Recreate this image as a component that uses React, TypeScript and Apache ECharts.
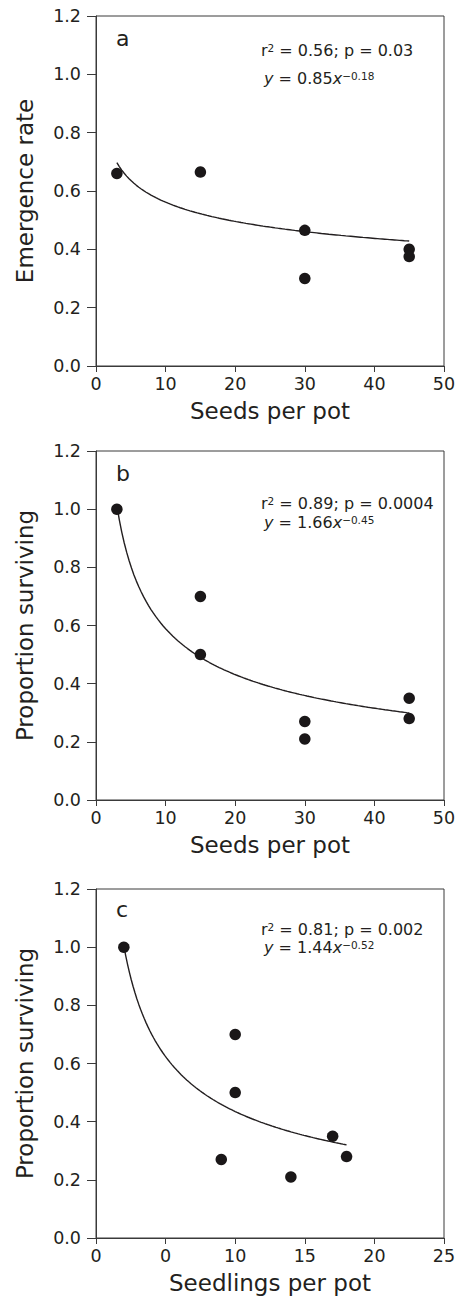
import React, { useEffect, useRef } from "react";
import * as echarts from "echarts";

// ---- data ----
const panelLetters = ["a", "b", "c"];
const xAxisNames = ["Seeds per pot", "Seeds per pot", "Seedlings per pot"];
const yAxisNames = ["Emergence rate", "Proportion surviving", "Proportion surviving"];
const yTickLabels = ["0.0", "0.2", "0.4", "0.6", "0.8", "1.0", "1.2"];
const xTickLabelsAB = ["0", "10", "20", "30", "40", "50"];
const xTickLabelsC = ["0", "0", "10", "15", "20", "25"];

const aX = [3, 15, 30, 30, 45, 45];
const aY = [0.66, 0.665, 0.465, 0.3, 0.4, 0.375];
const bX = [3, 15, 15, 30, 30, 45, 45];
const bY = [1.0, 0.7, 0.5, 0.27, 0.21, 0.35, 0.28];
const cX = [2, 9, 10, 10, 14, 17, 18];
const cY = [1.0, 0.27, 0.7, 0.5, 0.21, 0.35, 0.28];

// fitted power curves printed on the chart: y = coef * x^exp
const fitCoef = [0.85, 1.66, 1.44];
const fitExp = [-0.18, -0.45, -0.52];
const r2Values = ["0.56", "0.89", "0.81"];
const pValues = ["0.03", "0.0004", "0.002"];

const FONT = "'DejaVu Sans', 'Liberation Sans', Arial, sans-serif";
const INK = "#231f20";
const AXIS = "#3a3a3a";

export default function App() {
  const ref = useRef<HTMLDivElement>(null);

  useEffect(() => {
    document.body.style.margin = "0";
    const chart = echarts.init(ref.current!, null, { renderer: "svg" });

    const xs = [aX, bX, cX];
    const ys = [aY, bY, cY];
    const grids = [
      { left: 96, top: 16, width: 348, height: 350 },
      { left: 96, top: 451, width: 348, height: 349 },
      { left: 96, top: 889, width: 348, height: 349 },
    ];
    const xMax = [50, 50, 25];
    const xInt = [10, 10, 5];
    const xLabels = [xTickLabelsAB, xTickLabelsAB, xTickLabelsC];

    const series: any[] = [];
    for (let i = 0; i < 3; i++) {
      const pts = xs[i].map((x, k) => [x, ys[i][k]]);
      const lo = Math.min(...xs[i]);
      const hi = Math.max(...xs[i]);
      const curve: number[][] = [];
      const n = 120;
      for (let k = 0; k <= n; k++) {
        const x = lo + ((hi - lo) * k) / n;
        curve.push([x, fitCoef[i] * Math.pow(x, fitExp[i])]);
      }
      series.push({
        type: "line",
        xAxisIndex: i,
        yAxisIndex: i,
        data: curve,
        showSymbol: false,
        symbol: "none",
        lineStyle: { color: INK, width: 1.4 },
        z: 2,
      });
      series.push({
        type: "scatter",
        xAxisIndex: i,
        yAxisIndex: i,
        data: pts,
        symbolSize: 11.5,
        itemStyle: { color: "#1a1718", opacity: 1 },
        z: 3,
      });
    }

    const sup = { fontSize: 10.5, fontFamily: FONT, fill: INK, verticalAlign: "top" };
    const nrm = { fontSize: 16, fontFamily: FONT, fill: INK };
    const ital = { fontSize: 16, fontFamily: FONT, fill: INK, fontStyle: "italic" };
    const rich = { sup, n: nrm, i: ital };

    const line1Y = [50, 503, 929];
    const line2Y = [78, 522, 947];
    const letterY = [38, 473, 909];

    const graphic: any[] = [];
    for (let i = 0; i < 3; i++) {
      graphic.push({
        type: "text",
        x: 116,
        y: letterY[i],
        style: {
          text: panelLetters[i],
          fontSize: 22,
          fontFamily: FONT,
          fill: INK,
          align: "left",
          verticalAlign: "middle",
          textAlign: "left",
          textVerticalAlign: "middle",
        },
      });
      graphic.push({
        type: "text",
        x: 261,
        y: line1Y[i],
        style: {
          text: `{n|r}{sup|2}{n| = ${r2Values[i]}; p = ${pValues[i]}}`,
          rich,
          fontSize: 16,
          fontFamily: FONT,
          fill: INK,
          align: "left",
          verticalAlign: "middle",
          textAlign: "left",
          textVerticalAlign: "middle",
        },
      });
      const expStr = fitExp[i].toFixed(2).replace("-", "\u2212");
      graphic.push({
        type: "text",
        x: 264,
        y: line2Y[i],
        style: {
          text: `{i|y}{n| = ${fitCoef[i].toFixed(2)}}{i|x}{sup|${expStr}}`,
          rich,
          fontSize: 16,
          fontFamily: FONT,
          fill: INK,
          align: "left",
          verticalAlign: "middle",
          textAlign: "left",
          textVerticalAlign: "middle",
        },
      });
    }

    chart.setOption({
      animation: false,
      backgroundColor: "#ffffff",
      grid: grids.map((g) => ({
        ...g,
        show: true,
        borderColor: AXIS,
        borderWidth: 1,
        backgroundColor: "transparent",
        containLabel: false,
      })),
      xAxis: [0, 1, 2].map((i) => ({
        type: "value",
        gridIndex: i,
        min: 0,
        max: xMax[i],
        interval: xInt[i],
        name: xAxisNames[i],
        nameLocation: "middle",
        nameGap: 33,
        nameTextStyle: { fontSize: 23, fontFamily: FONT, color: INK },
        axisLine: { show: true, lineStyle: { color: AXIS, width: 1 } },
        axisTick: { show: true, inside: false, length: 6, lineStyle: { color: AXIS, width: 1 } },
        axisLabel: {
          fontSize: 17.5,
          fontFamily: FONT,
          color: INK,
          margin: 9,
          formatter: (_v: number, idx: number) => xLabels[i][idx] ?? "",
        },
        splitLine: { show: false },
      })),
      yAxis: [0, 1, 2].map((i) => ({
        type: "value",
        gridIndex: i,
        min: 0,
        max: 1.2,
        interval: 0.2,
        name: yAxisNames[i],
        nameLocation: "middle",
        nameGap: 60,
        nameTextStyle: { fontSize: 23, fontFamily: FONT, color: INK },
        axisLine: { show: true, lineStyle: { color: AXIS, width: 1 } },
        axisTick: { show: true, inside: false, length: 9, lineStyle: { color: AXIS, width: 1 } },
        axisLabel: {
          fontSize: 17.5,
          fontFamily: FONT,
          color: INK,
          margin: 15,
          formatter: (_v: number, idx: number) => yTickLabels[idx] ?? "",
        },
        splitLine: { show: false },
      })),
      series,
      graphic,
    });

    return () => chart.dispose();
  }, []);

  return <div ref={ref} style={{ width: 460, height: 1300 }} />;
}
